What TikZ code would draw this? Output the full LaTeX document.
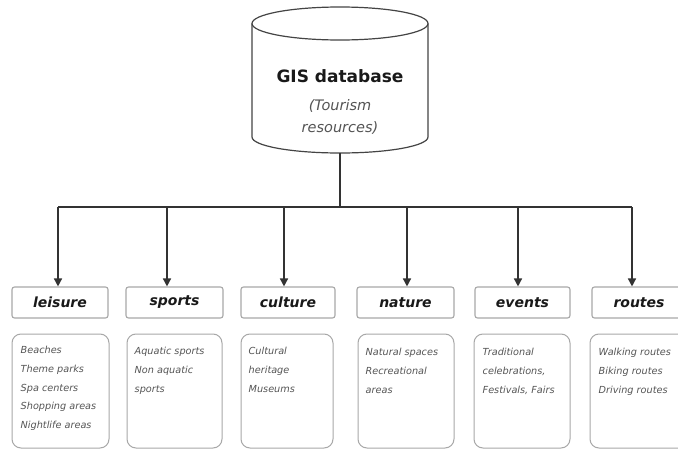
\documentclass[tikz,border=0pt]{standalone}
\usepackage{fontspec}
\setmainfont{DejaVu Sans}
\usetikzlibrary{arrows.meta,positioning}
\definecolor{linec}{HTML}{333333}
\definecolor{boxc}{HTML}{A8A8A8}
\definecolor{txtc}{HTML}{555555}
\definecolor{cylc}{HTML}{444444}
\newcommand{\mylines}[1]{\begin{tabular}[t]{@{}l@{}}#1\end{tabular}}
\tikzset{
  conn/.style={draw=linec, line width=1.5pt},
  arr/.style={conn, -{Triangle[width=8pt,length=8pt]}},
  cyl/.style={draw=cylc, line width=1.2pt, fill=white},
  headbox/.style={draw=boxc, line width=1.1pt, rounded corners=2.5pt, minimum height=31pt, inner sep=0pt,
    font=\fontsize{14}{16}\selectfont\bfseries\itshape, text=black!90},
  detbox/.style={draw=boxc, line width=1pt, rounded corners=9pt, minimum height=114pt, inner sep=0pt},
  dettxt/.style={anchor=base west, inner sep=0pt, text=txtc,
    font=\fontsize{9.7}{18.8}\selectfont\itshape},
}
\begin{document}
\begin{tikzpicture}[x=1pt,y=-1pt]
\useasboundingbox (0,0) rectangle (678,450);
\clip (0,0) rectangle (678,450);
\fill[white] (0,0) rectangle (678,450);

% database cylinder
\draw[cyl] (252,23.5) -- (252,137) arc[start angle=180, end angle=0, x radius=88, y radius=16] -- (428,23.5);
\draw[cyl] (340,23.5) ellipse[x radius=88, y radius=16.5];
\coordinate (dbbot) at (340,153);
\node[font=\fontsize{17}{20}\selectfont\bfseries, text=black!90] (db) at (340,76) {GIS database};
\node[font=\fontsize{14.5}{22}\selectfont\itshape, text=txtc, align=center] (dbsub) at (340,117) {(Tourism\\resources)};

% header boxes
\node[headbox, minimum width=96pt] (leisure) at (60,302.5) {leisure};
\node[headbox, minimum width=97pt] (sports) at (174.5,302.5) {sports};
\node[headbox, minimum width=94pt] (culture) at (288,302.5) {culture};
\node[headbox, minimum width=97pt] (nature) at (405.5,302.5) {nature};
\node[headbox, minimum width=95pt] (events) at (522.5,302.5) {events};
\node[headbox, minimum width=94pt] (routes) at (639,302.5) {routes};

% connectors
\coordinate (bus) at (340,207);
\coordinate (b1) at (58,207);
\coordinate (b2) at (167,207);
\coordinate (b3) at (284,207);
\coordinate (b4) at (407,207);
\coordinate (b5) at (518,207);
\coordinate (b6) at (632,207);
\draw[conn] (dbbot) -- (bus);
\draw[conn] (b1) -- (b6);
\draw[arr] (b1) -- (b1 |- leisure.north);
\draw[arr] (b2) -- (b2 |- sports.north);
\draw[arr] (b3) -- (b3 |- culture.north);
\draw[arr] (b4) -- (b4 |- nature.north);
\draw[arr] (b5) -- (b5 |- events.north);
\draw[arr] (b6) -- (b6 |- routes.north);

% detail boxes
\node[detbox, minimum width=97pt] (dleisure) at (60.5,391) {};
\node[detbox, minimum width=95pt] (dsports) at (174.5,391) {};
\node[detbox, minimum width=92pt] (dculture) at (287,391) {};
\node[detbox, minimum width=96pt] (dnature) at (406,391) {};
\node[detbox, minimum width=96pt] (devents) at (522,391) {};
\node[detbox, minimum width=98pt] (droutes) at (639,391) {};

\node[dettxt] (tleisure) at ([shift={(9,20)}]dleisure.north west) {\mylines{Beaches\\Theme parks\\Spa centers\\Shopping areas\\Nightlife areas}};
\node[dettxt] (tsports) at ([shift={(8,21)}]dsports.north west) {\mylines{Aquatic sports\\Non aquatic\\sports}};
\node[dettxt] (tculture) at ([shift={(8,21)}]dculture.north west) {\mylines{Cultural\\heritage\\Museums}};
\node[dettxt] (tnature) at ([shift={(8,22)}]dnature.north west) {\mylines{Natural spaces\\Recreational\\areas}};
\node[dettxt] (tevents) at ([shift={(9,22)}]devents.north west) {\mylines{Traditional\\celebrations,\\Festivals, Fairs}};
\node[dettxt] (troutes) at ([shift={(9,22)}]droutes.north west) {\mylines{Walking routes\\Biking routes\\Driving routes}};
\end{tikzpicture}
\end{document}
